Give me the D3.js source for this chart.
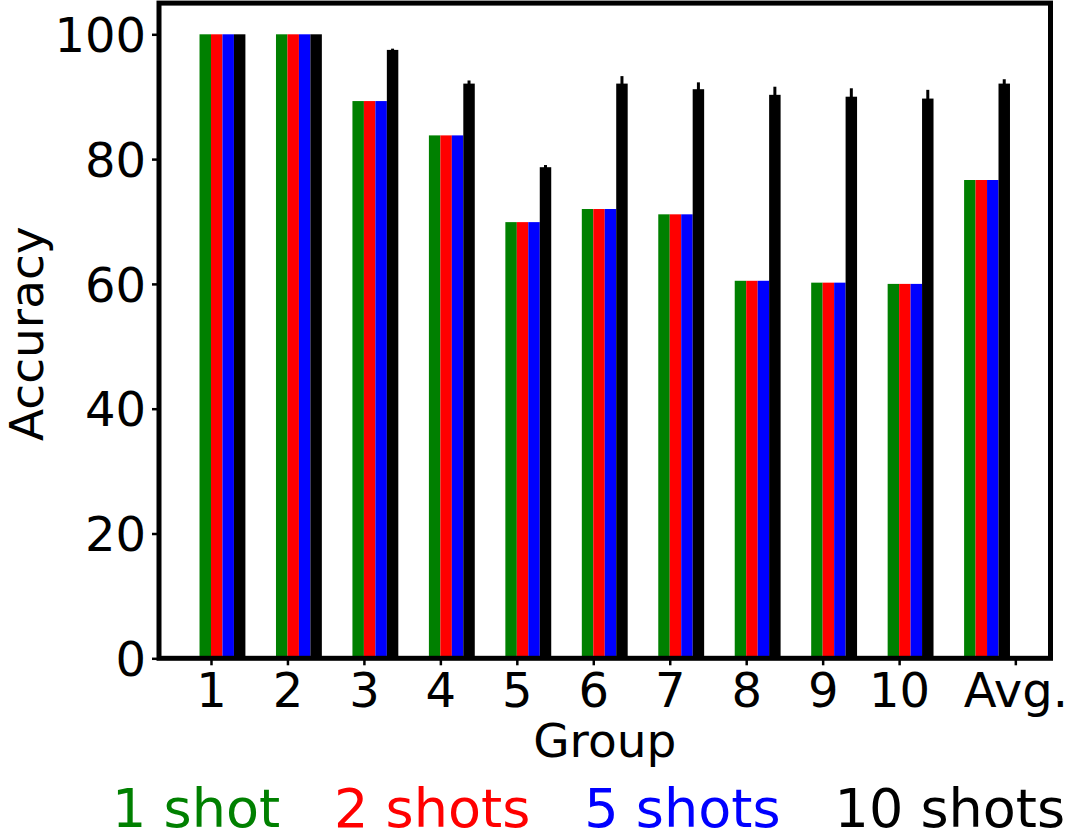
<!DOCTYPE html>
<html>
<head>
<meta charset="utf-8">
<script src="https://cdn.jsdelivr.net/npm/d3@7"></script>
<style>
  body { margin: 0; background: #fff; }
  svg { display: block; font-family: "DejaVu Sans", sans-serif; }
</style>
</head>
<body>
<svg id="chart" width="1066" height="830"></svg>
<script>
// groups on the x axis
const groups = ["1", "2", "3", "4", "5", "6", "7", "8", "9", "10", "Avg."];
// where each tick label sits, in group units (Avg. is shifted right in the original)
const tickPos = [0, 1, 2, 3, 4, 5, 6, 7, 8, 9, 10.52];

// accuracy per series
const oneShot   = [100, 100, 89.3, 83.8, 69.9, 72.0, 71.15, 60.5, 60.2, 60.0, 76.65];
const twoShots  = [100, 100, 89.3, 83.8, 69.9, 72.0, 71.15, 60.5, 60.2, 60.0, 76.65];
const fiveShots = [100, 100, 89.3, 83.8, 69.9, 72.0, 71.15, 60.5, 60.2, 60.0, 76.65];
const tenShots  = [100, 100, 97.5, 92.1, 78.7, 92.1, 91.2, 90.3, 90.0, 89.7, 92.1];
// std of 10 shots (error bars)
const tenShotsErr = [0, 0, 0.2, 0.5, 0.35, 1.2, 1.1, 1.3, 1.35, 1.4, 0.7];

const seriesNames = ["1 shot", "2 shots", "5 shots", "10 shots"];
const seriesColors = ["green", "red", "blue", "black"];
const yTicks = [0, 20, 40, 60, 80, 100];

const series = [oneShot, twoShots, fiveShots, tenShots];
const barW = 0.15;

// plot box
const box = { left: 159, right: 1050.5, top: 3.1, bottom: 658.3 };

const svg = d3.select("#chart");

// x extent of the bars plus 5% margin, like matplotlib
const xmin = -barW, xmax = groups.length - 1 + 3 * barW;
const pad = (xmax - xmin) * 0.05;
const x = d3.scaleLinear()
  .domain([xmin - pad, xmax + pad])
  .range([box.left, box.right]);

const y = d3.scaleLinear()
  .domain([0, 105])
  .range([box.bottom, box.top]);

// bars
series.forEach(function(vals, s) {
  svg.append("g")
    .selectAll("rect")
    .data(vals)
    .enter()
    .append("rect")
    .attr("x", function(d, i) { return x(i + (s - 1) * barW); })
    .attr("width", x(barW) - x(0))
    .attr("y", function(d) { return y(d); })
    .attr("height", function(d) { return y(0) - y(d); })
    .attr("fill", seriesColors[s]);
});

// error bars on 10 shots
svg.append("g")
  .selectAll("line")
  .data(tenShots)
  .enter()
  .append("line")
  .attr("x1", function(d, i) { return x(i + 2.5 * barW); })
  .attr("x2", function(d, i) { return x(i + 2.5 * barW); })
  .attr("y1", function(d, i) { return y(d - tenShotsErr[i]); })
  .attr("y2", function(d, i) { return y(d + tenShotsErr[i]); })
  .attr("stroke", "black")
  .attr("stroke-width", 3);

// axes
const xAxis = svg.append("g")
  .attr("transform", "translate(0," + box.bottom + ")")
  .call(d3.axisBottom(x).tickValues(tickPos).tickSize(7).tickPadding(8)
    .tickFormat(function(d, i) { return groups[i]; }));

const yAxis = svg.append("g")
  .attr("transform", "translate(" + box.left + ",0)")
  .call(d3.axisLeft(y).tickValues(yTicks).tickSize(7).tickPadding(6));

[xAxis, yAxis].forEach(function(a) {
  a.select(".domain").remove();
  a.selectAll(".tick line").attr("stroke", "black").attr("stroke-width", 2.5);
  a.selectAll(".tick text")
    .attr("fill", "black")
    .style("font-size", "48px")
    .style("font-family", "DejaVu Sans");
});
xAxis.selectAll(".tick text").attr("dy", "0.71em");
yAxis.selectAll(".tick text").attr("dy", "0.36em");

// frame
svg.append("rect")
  .attr("x", box.left)
  .attr("y", box.top)
  .attr("width", box.right - box.left)
  .attr("height", box.bottom - box.top)
  .attr("fill", "none")
  .attr("stroke", "black")
  .attr("stroke-width", 5);

// axis titles
svg.append("text")
  .attr("x", (box.left + box.right) / 2)
  .attr("y", 757)
  .attr("text-anchor", "middle")
  .style("font-size", "47px")
  .text("Group");

svg.append("text")
  .attr("transform", "translate(43," + (box.top + box.bottom + 6) / 2 + ") rotate(-90)")
  .attr("text-anchor", "middle")
  .style("font-size", "47px")
  .text("Accuracy");

// legend: coloured text only
const legend = svg.append("g").attr("transform", "translate(112,827)");
let lx = 0;
seriesNames.forEach(function(name, i) {
  const t = legend.append("text")
    .attr("x", lx)
    .attr("y", 0)
    .attr("fill", seriesColors[i])
    .style("font-size", "54px")
    .text(name);
  lx += t.node().getComputedTextLength() + 54;
});
</script>
</body>
</html>
